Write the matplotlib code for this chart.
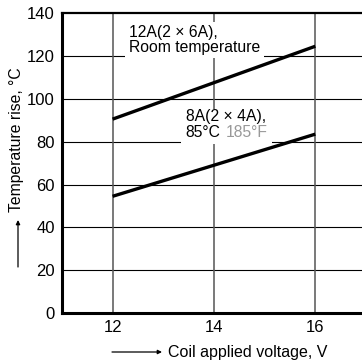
import matplotlib
matplotlib.use("Agg")
from matplotlib import pyplot as plt

plt.rcParams['font.family'] = ['Liberation Sans', 'DejaVu Sans']

volts = [12, 16]
rise_12a = [90.5, 124.5]
rise_8a = [54.5, 83.5]
xticks = [12, 14, 16]
yticks = [0, 20, 40, 60, 80, 100, 120, 140]

fig = plt.figure(figsize=(3.62, 3.62), dpi=100)
ax = fig.add_axes([0.171, 0.135, 0.84, 0.829])
ax.set_xlim(11, 17)
ax.set_ylim(0, 140)

# grid: black horizontal, grey vertical
for y in yticks[1:-1]:
    ax.axhline(y, color="black", lw=0.8, zorder=1)
for x in xticks:
    ax.axvline(x, color="#555555", lw=1.1, zorder=1)

ax.plot(volts, rise_12a, color="black", lw=2.4, zorder=4, solid_capstyle="butt")
ax.plot(volts, rise_8a, color="black", lw=2.4, zorder=4, solid_capstyle="butt")

ax.text(12.32, 127.4, "12A(2 × 6A),\nRoom temperature", fontsize=11.3, va="center",
        ha="left", linespacing=1.0, zorder=3,
        bbox=dict(facecolor="white", edgecolor="none", pad=2.5))
ax.text(13.44, 91.5, "8A(2 × 4A),", fontsize=11.3, va="center", ha="left", zorder=3.2,
        bbox=dict(facecolor="white", edgecolor="none", pad=0.5))
t2 = ax.text(13.44, 84.2, "85°C", fontsize=11.3, va="center", ha="left", zorder=3,
             bbox=dict(facecolor="white", edgecolor="none", pad=3.0))
ax.annotate("185°F", xy=(1, 0), xycoords=t2, xytext=(3.5, 0), textcoords="offset points",
            fontsize=11.3, color="#999999", va="bottom", ha="left", zorder=3,
            bbox=dict(facecolor="white", edgecolor="none", pad=3.0))

ax.set_xticks(xticks)
ax.set_yticks(yticks)
ax.tick_params(length=0, labelsize=12)
ax.tick_params(axis="y", pad=5)
ax.tick_params(axis="x", pad=5)
ax.spines["right"].set_visible(False)
ax.spines["left"].set_linewidth(2.2)
ax.spines["bottom"].set_linewidth(2.2)
ax.spines["top"].set_linewidth(1.6)

# axis titles with arrows
fig.text(17 / 362, 1 - 140 / 362, "Temperature rise, °C", rotation=90, fontsize=11.3,
         ha="center", va="center")
fig.text(168 / 362, 1 - 352 / 362, "Coil applied voltage, V", fontsize=11.5,
         ha="left", va="center")
ax.annotate("", xy=(18, 362 - 220), xycoords="figure pixels", xytext=(18, 362 - 267),
            textcoords="figure pixels",
            arrowprops=dict(arrowstyle="-|>", color="black", lw=0.9, mutation_scale=6,
                            shrinkA=0, shrinkB=0))
ax.annotate("", xy=(162, 10), xycoords="figure pixels", xytext=(112, 10),
            textcoords="figure pixels",
            arrowprops=dict(arrowstyle="-|>", color="black", lw=0.9, mutation_scale=6,
                            shrinkA=0, shrinkB=0))

fig.savefig("out.png", dpi=100)
